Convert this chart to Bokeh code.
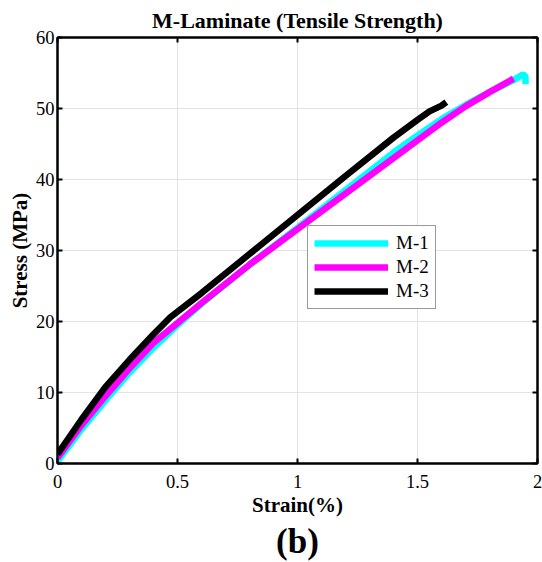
from bokeh.plotting import figure
from bokeh.models import Range1d, LinearAxis, Legend, LegendItem, Title, FixedTicker, CustomJSTickFormatter
from bokeh.embed import file_html
from bokeh.resources import INLINE

# Data
m1_strain = [0.0, 0.1, 0.2, 0.3, 0.4, 0.5, 0.6, 0.8, 1.0, 1.2, 1.4, 1.5, 1.6, 1.7, 1.8, 1.9, 1.94, 1.95, 1.95]
m1_stress = [0.3, 4.8, 8.9, 12.8, 16.3, 19.5, 22.5, 28.0, 33.2, 38.5, 43.8, 46.2, 48.5, 50.5, 52.3, 54.0, 54.8, 54.5, 53.4]
m2_strain = [0.0, 0.1, 0.2, 0.3, 0.4, 0.5, 0.6, 0.8, 1.0, 1.2, 1.4, 1.5, 1.6, 1.7, 1.8, 1.9]
m2_stress = [0.8, 5.4, 9.5, 13.4, 17.0, 19.8, 22.6, 28.0, 33.0, 38.0, 43.0, 45.5, 48.0, 50.3, 52.3, 54.2]
m3_strain = [0.0, 0.1, 0.2, 0.3, 0.4, 0.47, 0.6, 0.8, 1.0, 1.2, 1.4, 1.5, 1.55, 1.6, 1.62]
m3_stress = [1.3, 6.2, 10.8, 14.6, 18.2, 20.6, 24.0, 29.5, 35.0, 40.5, 45.9, 48.4, 49.6, 50.4, 50.9]
series_names = ["M-1", "M-2", "M-3"]
series_colors = ["#00FFFF", "#FF00FF", "#000000"]
x_ticks = [0, 0.5, 1, 1.5, 2]
y_ticks = [0, 10, 20, 30, 40, 50, 60]
title_text = "M-Laminate (Tensile Strength)"
panel_tag = "(b)"

FONT = "Liberation Serif"

p = figure(width=542, height=562, output_backend="svg", toolbar_location=None,
           x_range=Range1d(0, 2), y_range=Range1d(0, 60),
           min_border_left=57, min_border_right=5, min_border_top=36, min_border_bottom=99)

p.title.text = title_text
p.title.align = "center"
p.title.text_font = FONT
p.title.text_font_style = "bold"
p.title.text_font_size = "22px"
p.title.text_color = "black"
p.title.offset = 0
p.title.standoff = 10

p.outline_line_color = "black"
p.outline_line_width = 2

for ax in [p.xaxis[0], p.yaxis[0]]:
    ax.major_label_text_font = FONT
    ax.major_label_text_font_size = "18.5px"
    ax.major_label_text_color = "black"
    ax.axis_label_text_font = FONT
    ax.axis_label_text_font_style = "bold"
    ax.axis_label_text_font_size = "21px"
    ax.axis_label_text_color = "black"
    ax.major_tick_in = 5
    ax.major_tick_out = 0
    ax.minor_tick_in = 0
    ax.minor_tick_out = 0
    ax.minor_tick_line_color = None
    ax.axis_line_width = 2
    ax.axis_line_color = "black"
    ax.major_tick_line_width = 2
    ax.major_tick_line_color = "black"

p.xaxis[0].ticker = FixedTicker(ticks=x_ticks)
p.yaxis[0].ticker = FixedTicker(ticks=y_ticks)
p.xaxis[0].axis_label = "Strain(%)"
p.yaxis[0].axis_label = "Stress (MPa)"
p.xaxis[0].major_label_standoff = 11
p.yaxis[0].major_label_standoff = 3
p.xaxis[0].axis_label_standoff = 2
p.yaxis[0].axis_label_standoff = 1

empty = CustomJSTickFormatter(code="return ''")
for loc, ticks in (("above", x_ticks), ("right", y_ticks)):
    ax = LinearAxis(ticker=FixedTicker(ticks=ticks), formatter=empty, major_tick_in=5, major_tick_out=0,
                    minor_tick_in=0, minor_tick_out=0, minor_tick_line_color=None,
                    major_label_text_font_size="0px", major_label_standoff=0, axis_label_standoff=0,
                    axis_line_width=2, major_tick_line_width=2, axis_label=None)
    p.add_layout(ax, loc)

p.xgrid.ticker = FixedTicker(ticks=x_ticks)
p.ygrid.ticker = FixedTicker(ticks=y_ticks)
p.grid.grid_line_color = "#e3e3e3"
p.grid.grid_line_width = 1

r1 = p.line(m1_strain, m1_stress, line_color=series_colors[0], line_width=6.5)
r2 = p.line(m2_strain, m2_stress, line_color=series_colors[1], line_width=6.5)
r3 = p.line(m3_strain, m3_stress, line_color=series_colors[2], line_width=6.5)

legend = Legend(items=[LegendItem(label=series_names[0], renderers=[r1]),
                       LegendItem(label=series_names[1], renderers=[r2]),
                       LegendItem(label=series_names[2], renderers=[r3])],
                location=(250, 154))
legend.label_text_font = FONT
legend.label_text_font_size = "19px"
legend.label_text_color = "black"
legend.glyph_width = 74
legend.glyph_height = 20
legend.label_height = 20
legend.spacing = 2
legend.padding = 6
legend.margin = 0
legend.label_standoff = 8
legend.border_line_color = "#333333"
legend.border_line_width = 1
legend.background_fill_color = "white"
legend.background_fill_alpha = 1
p.add_layout(legend)

sub = Title(text=panel_tag, align="center", text_font=FONT, text_font_style="bold",
            text_font_size="35px", text_color="black", standoff=0, offset=0)
p.add_layout(sub, "below")

open("out.html", "w").write(file_html(p, INLINE))
